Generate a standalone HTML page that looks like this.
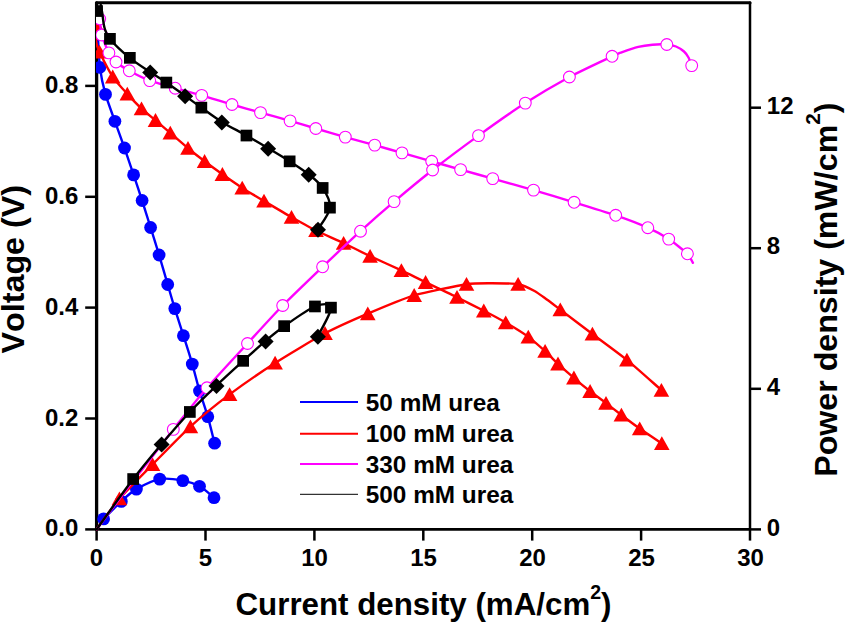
<!DOCTYPE html>
<html><head><meta charset="utf-8"><title>Polarization and power density curves</title>
<style>
html,body{margin:0;padding:0;background:#fff;}
body{width:846px;height:623px;overflow:hidden;font-family:"Liberation Sans",sans-serif;}
svg{display:block;}
</style></head>
<body>
<svg width="846" height="623" viewBox="0 0 846 623">
<defs><clipPath id="plot"><rect x="96.0" y="2.0" width="655.0" height="528.5"/></clipPath></defs>
<rect width="846" height="623" fill="#fff"/>
<g stroke="#000" fill="none" stroke-linecap="round">
<path d="M96.6 2.8 V529.3" stroke-width="3.3"/>
<path d="M96.6 2.75 H750" stroke-width="3.1"/>
<path d="M750 2.8 V529.3" stroke-width="2.5"/>
<path d="M96.6 529.35 H750" stroke-width="2.6"/>
</g>
<g stroke="#000" stroke-width="2.5" fill="none" stroke-linecap="butt">
<path d="M96.6 529.5 V540.6"/>
<path d="M205.5 529.5 V540.6"/>
<path d="M314.4 529.5 V540.6"/>
<path d="M423.3 529.5 V540.6"/>
<path d="M532.2 529.5 V540.6"/>
<path d="M641.1 529.5 V540.6"/>
<path d="M750.0 529.5 V540.6"/>
<path d="M96.5 529.4 H85.2"/>
<path d="M96.5 418.5 H85.2"/>
<path d="M96.5 307.6 H85.2"/>
<path d="M96.5 196.8 H85.2"/>
<path d="M96.5 85.9 H85.2"/>
<path d="M750.0 529.4 H761.0"/>
<path d="M750.0 388.8 H761.0"/>
<path d="M750.0 248.2 H761.0"/>
<path d="M750.0 107.7 H761.0"/>
</g>
<g clip-path="url(#plot)" fill="none" stroke-linejoin="round" stroke-linecap="round">
<path d="M97.6 30.0C97.8 33.7 99.1 60.9 99.9 67.3C100.7 73.7 104.0 89.0 105.5 94.4C107.0 99.8 113.0 115.9 114.9 121.3C116.8 126.7 122.6 142.6 124.5 148.0C126.4 153.4 131.8 169.7 133.6 174.9C135.4 180.2 140.4 195.2 142.1 200.5C143.8 205.8 148.9 222.1 150.6 227.5C152.3 232.9 157.4 249.3 159.1 255.0C160.8 260.7 166.1 279.1 167.7 284.5C169.3 289.9 173.2 303.5 174.8 308.6C176.4 313.7 181.7 330.1 183.4 335.7C185.2 341.2 190.7 358.6 192.3 364.1C193.9 369.6 197.9 385.7 199.5 391.0C201.1 396.3 206.3 411.5 207.8 416.7C209.3 421.9 213.9 440.6 214.6 443.2" stroke="#0000ff" stroke-width="2.4"/>
<path d="M103.6 518.9C106.5 516.0 115.8 506.4 121.3 501.4C126.8 496.4 130.0 492.8 136.4 489.1C142.8 485.4 152.0 480.5 159.7 479.1C167.4 477.7 176.2 479.4 182.8 480.6C189.4 481.8 194.3 483.5 199.5 486.3C204.7 489.1 211.6 495.8 214.0 497.7" stroke="#0000ff" stroke-width="2.4"/>
<circle cx="99.9" cy="67.3" r="6.4" fill="#0000ff"/><circle cx="105.5" cy="94.4" r="6.4" fill="#0000ff"/><circle cx="114.9" cy="121.3" r="6.4" fill="#0000ff"/><circle cx="124.5" cy="148.0" r="6.4" fill="#0000ff"/><circle cx="133.6" cy="174.9" r="6.4" fill="#0000ff"/><circle cx="142.1" cy="200.5" r="6.4" fill="#0000ff"/><circle cx="150.6" cy="227.5" r="6.4" fill="#0000ff"/><circle cx="159.1" cy="255.0" r="6.4" fill="#0000ff"/><circle cx="167.7" cy="284.5" r="6.4" fill="#0000ff"/><circle cx="174.8" cy="308.6" r="6.4" fill="#0000ff"/><circle cx="183.4" cy="335.7" r="6.4" fill="#0000ff"/><circle cx="192.3" cy="364.1" r="6.4" fill="#0000ff"/><circle cx="199.5" cy="391.0" r="6.4" fill="#0000ff"/><circle cx="207.8" cy="416.7" r="6.4" fill="#0000ff"/><circle cx="214.6" cy="443.2" r="6.4" fill="#0000ff"/>
<circle cx="103.6" cy="518.9" r="6.4" fill="#0000ff"/><circle cx="121.3" cy="501.4" r="6.4" fill="#0000ff"/><circle cx="136.4" cy="489.1" r="6.4" fill="#0000ff"/><circle cx="159.7" cy="479.1" r="6.4" fill="#0000ff"/><circle cx="182.8" cy="480.6" r="6.4" fill="#0000ff"/><circle cx="199.5" cy="486.3" r="6.4" fill="#0000ff"/><circle cx="214.0" cy="497.7" r="6.4" fill="#0000ff"/>
<path d="M96.6 25.3C96.6 27.0 95.9 39.3 96.2 42.0C96.5 44.7 97.8 48.5 99.5 52.0C101.2 55.5 109.9 72.6 112.7 76.8C115.5 81.0 124.4 90.7 127.3 93.9C130.2 97.1 138.7 106.0 141.5 108.6C144.3 111.2 152.6 117.9 155.5 120.3C158.4 122.7 167.1 130.2 170.3 133.0C173.6 135.8 184.6 145.4 188.0 148.2C191.4 151.0 201.2 158.7 204.6 161.3C208.0 163.9 218.6 171.6 222.4 174.3C226.2 177.0 238.0 185.2 242.2 187.9C246.4 190.6 259.1 198.1 264.0 201.0C268.9 203.9 286.3 214.2 291.5 217.1C296.7 220.0 310.8 227.9 316.0 230.5C321.2 233.1 338.2 240.5 343.6 243.1C349.0 245.7 364.3 253.4 370.1 256.1C375.9 258.8 395.8 267.8 401.4 270.4C406.9 273.0 420.0 279.6 425.6 282.3C431.2 285.0 451.2 294.3 457.0 297.2C462.8 300.1 478.9 308.3 483.8 310.8C488.7 313.3 501.2 320.0 505.7 322.6C510.1 325.2 524.4 334.0 528.3 336.9C532.2 339.8 542.1 348.5 545.1 351.2C548.1 353.9 555.1 361.1 558.0 363.8C560.9 366.5 570.7 375.1 573.9 377.8C577.1 380.6 586.9 388.8 590.1 391.3C593.3 393.8 602.9 400.7 606.0 403.1C609.1 405.5 618.0 412.4 621.4 415.0C624.8 417.6 635.7 425.8 639.7 428.6C643.7 431.5 659.6 442.0 661.8 443.5" stroke="#ff0000" stroke-width="2.4"/>
<path d="M96.5 529.5C98.8 526.4 113.8 505.1 119.4 498.6C125.0 492.1 145.4 471.7 152.5 464.5C159.6 457.3 182.7 433.6 190.4 426.6C198.1 419.6 221.1 400.8 229.6 394.4C238.1 388.0 265.6 369.1 275.1 363.0C284.6 356.9 315.7 338.2 325.0 333.3C334.3 328.4 358.9 317.4 367.8 313.6C376.7 309.8 404.3 298.2 414.2 295.3C424.1 292.4 458.7 285.4 466.5 284.2C474.3 283.0 486.8 283.2 492.0 283.2C497.2 283.2 513.8 283.4 518.1 284.2C522.4 285.0 532.4 289.8 535.0 291.2C537.6 292.6 542.0 296.0 544.5 297.8C547.0 299.6 555.5 306.0 560.3 309.6C565.1 313.2 585.7 329.0 592.4 334.0C599.1 339.0 620.0 354.3 626.9 359.9C633.8 365.5 657.9 387.1 661.4 390.1" stroke="#ff0000" stroke-width="2.4"/>
<path d="M96.6 18.1 L104.4 31.9 L88.8 31.9 Z" fill="#ff0000"/><path d="M99.5 44.8 L107.3 58.6 L91.7 58.6 Z" fill="#ff0000"/><path d="M112.7 69.6 L120.5 83.4 L104.9 83.4 Z" fill="#ff0000"/><path d="M127.3 86.7 L135.1 100.5 L119.5 100.5 Z" fill="#ff0000"/><path d="M141.5 101.4 L149.3 115.2 L133.7 115.2 Z" fill="#ff0000"/><path d="M155.5 113.1 L163.3 126.9 L147.7 126.9 Z" fill="#ff0000"/><path d="M170.3 125.8 L178.1 139.6 L162.5 139.6 Z" fill="#ff0000"/><path d="M188.0 141.0 L195.8 154.8 L180.2 154.8 Z" fill="#ff0000"/><path d="M204.6 154.1 L212.4 167.9 L196.8 167.9 Z" fill="#ff0000"/><path d="M222.4 167.1 L230.2 180.9 L214.6 180.9 Z" fill="#ff0000"/><path d="M242.2 180.7 L250.0 194.5 L234.4 194.5 Z" fill="#ff0000"/><path d="M264.0 193.8 L271.8 207.6 L256.2 207.6 Z" fill="#ff0000"/><path d="M291.5 209.9 L299.3 223.7 L283.7 223.7 Z" fill="#ff0000"/><path d="M316.0 223.3 L323.8 237.1 L308.2 237.1 Z" fill="#ff0000"/><path d="M343.6 235.9 L351.4 249.7 L335.8 249.7 Z" fill="#ff0000"/><path d="M370.1 248.9 L377.9 262.7 L362.3 262.7 Z" fill="#ff0000"/><path d="M401.4 263.2 L409.2 277.0 L393.6 277.0 Z" fill="#ff0000"/><path d="M425.6 275.1 L433.4 288.9 L417.8 288.9 Z" fill="#ff0000"/><path d="M457.0 290.0 L464.8 303.8 L449.2 303.8 Z" fill="#ff0000"/><path d="M483.8 303.6 L491.6 317.4 L476.0 317.4 Z" fill="#ff0000"/><path d="M505.7 315.4 L513.5 329.2 L497.9 329.2 Z" fill="#ff0000"/><path d="M528.3 329.7 L536.1 343.5 L520.5 343.5 Z" fill="#ff0000"/><path d="M545.1 344.0 L552.9 357.8 L537.3 357.8 Z" fill="#ff0000"/><path d="M558.0 356.6 L565.8 370.4 L550.2 370.4 Z" fill="#ff0000"/><path d="M573.9 370.6 L581.7 384.4 L566.1 384.4 Z" fill="#ff0000"/><path d="M590.1 384.1 L597.9 397.9 L582.3 397.9 Z" fill="#ff0000"/><path d="M606.0 395.9 L613.8 409.7 L598.2 409.7 Z" fill="#ff0000"/><path d="M621.4 407.8 L629.2 421.6 L613.6 421.6 Z" fill="#ff0000"/><path d="M639.7 421.4 L647.5 435.2 L631.9 435.2 Z" fill="#ff0000"/><path d="M661.8 436.3 L669.6 450.1 L654.0 450.1 Z" fill="#ff0000"/>
<path d="M119.4 491.4 L127.2 505.2 L111.6 505.2 Z" fill="#ff0000"/><path d="M152.5 457.3 L160.3 471.1 L144.7 471.1 Z" fill="#ff0000"/><path d="M190.4 419.4 L198.2 433.2 L182.6 433.2 Z" fill="#ff0000"/><path d="M229.6 387.2 L237.4 401.0 L221.8 401.0 Z" fill="#ff0000"/><path d="M275.1 355.8 L282.9 369.6 L267.3 369.6 Z" fill="#ff0000"/><path d="M325.0 326.1 L332.8 339.9 L317.2 339.9 Z" fill="#ff0000"/><path d="M367.8 306.4 L375.6 320.2 L360.0 320.2 Z" fill="#ff0000"/><path d="M414.2 288.1 L422.0 301.9 L406.4 301.9 Z" fill="#ff0000"/><path d="M466.5 277.0 L474.3 290.8 L458.7 290.8 Z" fill="#ff0000"/><path d="M518.1 277.0 L525.9 290.8 L510.3 290.8 Z" fill="#ff0000"/><path d="M560.3 302.4 L568.1 316.2 L552.5 316.2 Z" fill="#ff0000"/><path d="M592.4 326.8 L600.2 340.6 L584.6 340.6 Z" fill="#ff0000"/><path d="M626.9 352.7 L634.7 366.5 L619.1 366.5 Z" fill="#ff0000"/><path d="M661.4 382.9 L669.2 396.7 L653.6 396.7 Z" fill="#ff0000"/>
<path d="M99.7 19.0C99.9 20.6 100.8 31.6 101.7 35.0C102.6 38.4 107.5 50.2 108.9 52.9C110.3 55.6 114.0 60.2 116.0 62.0C118.0 63.8 125.9 68.9 129.3 70.8C132.7 72.7 145.1 78.9 149.7 80.6C154.3 82.3 170.0 86.7 175.2 88.2C180.4 89.7 196.0 93.8 201.7 95.4C207.4 97.0 226.1 102.8 232.0 104.5C237.9 106.2 254.7 111.0 260.5 112.6C266.3 114.2 284.6 119.3 290.1 120.9C295.6 122.5 310.3 126.9 315.8 128.5C321.3 130.1 339.4 135.4 345.3 137.1C351.2 138.8 369.0 143.5 374.7 145.1C380.4 146.7 396.3 151.3 402.0 152.9C407.7 154.5 425.8 159.6 431.7 161.3C437.6 163.0 454.5 167.9 460.6 169.6C466.7 171.3 485.4 176.5 492.7 178.6C500.0 180.7 525.4 187.7 533.5 190.1C541.6 192.5 565.9 199.8 574.1 202.3C582.3 204.8 608.3 212.8 615.7 215.3C623.1 217.8 642.5 225.3 647.8 227.7C653.1 230.1 664.7 236.5 668.7 239.1C672.7 241.7 685.0 251.4 687.4 253.8C689.8 256.2 692.4 261.9 692.9 262.8" stroke="#ff00ff" stroke-width="2.4"/>
<path d="M96.5 529.5C100.3 524.4 123.1 493.8 129.3 485.7C135.5 477.6 144.6 466.6 149.7 460.0C154.8 453.4 166.6 437.8 173.3 429.4C180.0 421.0 198.3 397.8 207.0 387.8C215.7 377.8 238.7 353.1 247.5 343.5C256.3 333.9 273.9 314.4 282.7 305.5C291.5 296.6 313.5 275.5 322.6 266.8C331.7 258.1 352.2 238.8 360.5 231.2C368.8 223.6 385.7 208.7 394.1 201.6C402.5 194.5 422.8 177.7 432.6 170.0C442.4 162.3 467.7 143.4 478.5 135.6C489.3 127.8 514.7 109.9 525.3 103.1C535.9 96.3 559.3 82.5 569.4 77.0C579.5 71.5 606.0 59.2 612.1 56.3C618.2 53.4 618.5 53.4 621.6 52.3C624.7 51.2 634.7 47.8 638.3 46.9C641.9 46.0 649.2 45.0 652.5 44.7C655.8 44.4 664.1 44.3 666.8 44.5C669.5 44.7 674.0 45.7 676.0 46.5C678.0 47.3 682.5 50.2 684.0 51.5C685.5 52.8 687.6 55.9 688.5 57.5C689.4 59.1 691.3 64.7 691.7 65.6" stroke="#ff00ff" stroke-width="2.4"/>
<circle cx="99.7" cy="19.0" r="5.9" fill="#fff" stroke="#ff00ff" stroke-width="1.1"/><circle cx="101.7" cy="35.0" r="5.9" fill="#fff" stroke="#ff00ff" stroke-width="1.1"/><circle cx="108.9" cy="52.9" r="5.9" fill="#fff" stroke="#ff00ff" stroke-width="1.1"/><circle cx="116.0" cy="62.0" r="5.9" fill="#fff" stroke="#ff00ff" stroke-width="1.1"/><circle cx="129.3" cy="70.8" r="5.9" fill="#fff" stroke="#ff00ff" stroke-width="1.1"/><circle cx="149.7" cy="80.6" r="5.9" fill="#fff" stroke="#ff00ff" stroke-width="1.1"/><circle cx="175.2" cy="88.2" r="5.9" fill="#fff" stroke="#ff00ff" stroke-width="1.1"/><circle cx="201.7" cy="95.4" r="5.9" fill="#fff" stroke="#ff00ff" stroke-width="1.1"/><circle cx="232.0" cy="104.5" r="5.9" fill="#fff" stroke="#ff00ff" stroke-width="1.1"/><circle cx="260.5" cy="112.6" r="5.9" fill="#fff" stroke="#ff00ff" stroke-width="1.1"/><circle cx="290.1" cy="120.9" r="5.9" fill="#fff" stroke="#ff00ff" stroke-width="1.1"/><circle cx="315.8" cy="128.5" r="5.9" fill="#fff" stroke="#ff00ff" stroke-width="1.1"/><circle cx="345.3" cy="137.1" r="5.9" fill="#fff" stroke="#ff00ff" stroke-width="1.1"/><circle cx="374.7" cy="145.1" r="5.9" fill="#fff" stroke="#ff00ff" stroke-width="1.1"/><circle cx="402.0" cy="152.9" r="5.9" fill="#fff" stroke="#ff00ff" stroke-width="1.1"/><circle cx="431.7" cy="161.3" r="5.9" fill="#fff" stroke="#ff00ff" stroke-width="1.1"/><circle cx="460.6" cy="169.6" r="5.9" fill="#fff" stroke="#ff00ff" stroke-width="1.1"/><circle cx="492.7" cy="178.6" r="5.9" fill="#fff" stroke="#ff00ff" stroke-width="1.1"/><circle cx="533.5" cy="190.1" r="5.9" fill="#fff" stroke="#ff00ff" stroke-width="1.1"/><circle cx="574.1" cy="202.3" r="5.9" fill="#fff" stroke="#ff00ff" stroke-width="1.1"/><circle cx="615.7" cy="215.3" r="5.9" fill="#fff" stroke="#ff00ff" stroke-width="1.1"/><circle cx="647.8" cy="227.7" r="5.9" fill="#fff" stroke="#ff00ff" stroke-width="1.1"/><circle cx="668.7" cy="239.1" r="5.9" fill="#fff" stroke="#ff00ff" stroke-width="1.1"/><circle cx="687.4" cy="253.8" r="5.9" fill="#fff" stroke="#ff00ff" stroke-width="1.1"/>
<circle cx="173.3" cy="429.4" r="5.9" fill="#fff" stroke="#ff00ff" stroke-width="1.1"/><circle cx="207.0" cy="387.8" r="5.9" fill="#fff" stroke="#ff00ff" stroke-width="1.1"/><circle cx="247.5" cy="343.5" r="5.9" fill="#fff" stroke="#ff00ff" stroke-width="1.1"/><circle cx="282.7" cy="305.5" r="5.9" fill="#fff" stroke="#ff00ff" stroke-width="1.1"/><circle cx="322.6" cy="266.8" r="5.9" fill="#fff" stroke="#ff00ff" stroke-width="1.1"/><circle cx="360.5" cy="231.2" r="5.9" fill="#fff" stroke="#ff00ff" stroke-width="1.1"/><circle cx="394.1" cy="201.6" r="5.9" fill="#fff" stroke="#ff00ff" stroke-width="1.1"/><circle cx="432.6" cy="170.0" r="5.9" fill="#fff" stroke="#ff00ff" stroke-width="1.1"/><circle cx="478.5" cy="135.6" r="5.9" fill="#fff" stroke="#ff00ff" stroke-width="1.1"/><circle cx="525.3" cy="103.1" r="5.9" fill="#fff" stroke="#ff00ff" stroke-width="1.1"/><circle cx="569.4" cy="77.0" r="5.9" fill="#fff" stroke="#ff00ff" stroke-width="1.1"/><circle cx="612.1" cy="56.3" r="5.9" fill="#fff" stroke="#ff00ff" stroke-width="1.1"/><circle cx="666.8" cy="44.5" r="5.9" fill="#fff" stroke="#ff00ff" stroke-width="1.1"/><circle cx="691.7" cy="65.6" r="5.9" fill="#fff" stroke="#ff00ff" stroke-width="1.1"/>
<path d="M100.8 5.0C101.1 6.5 101.8 10.2 102.4 14.0C103.0 17.8 103.3 23.9 104.6 28.0C105.8 32.1 105.7 33.9 109.9 38.9C114.1 43.9 123.1 52.4 129.8 57.9C136.5 63.4 144.1 68.0 150.2 72.1C156.3 76.2 160.5 78.5 166.3 82.5C172.1 86.5 179.3 91.6 185.1 95.8C190.9 100.0 195.2 103.2 201.3 107.6C207.4 111.9 214.3 117.2 221.8 121.9C229.3 126.6 238.7 131.1 246.4 135.5C254.1 139.9 260.9 143.9 268.1 148.2C275.3 152.5 282.9 157.0 289.7 161.3C296.5 165.7 303.2 169.9 308.7 174.3C314.2 178.7 319.1 182.4 322.7 187.9C326.2 193.4 330.8 200.7 330.0 207.6C329.2 214.5 320.0 225.6 318.0 229.2" stroke="#000000" stroke-width="2.4"/>
<path d="M96.5 529.5C102.6 521.1 122.3 493.3 133.2 479.1C144.0 464.9 152.2 455.3 161.6 444.1C171.0 432.9 180.7 421.8 189.8 412.0C199.0 402.2 207.6 394.0 216.5 385.5C225.4 377.0 235.0 368.3 243.2 360.9C251.4 353.5 258.8 346.7 265.6 340.9C272.4 335.1 276.0 331.9 284.2 326.2C292.4 320.5 307.2 309.6 315.0 306.5C322.8 303.4 330.5 302.8 331.0 307.7C331.5 312.6 320.1 331.4 317.9 336.2" stroke="#000000" stroke-width="2.4"/>
<rect x="91.2" y="5.2" width="11.7" height="11.7" fill="#000"/><rect x="104.1" y="33.0" width="11.7" height="11.7" fill="#000"/><rect x="124.0" y="52.0" width="11.7" height="11.7" fill="#000"/><path d="M150.2 64.6 L158.2 72.6 L150.2 80.6 L142.2 72.6 Z" fill="#000"/><rect x="160.5" y="76.7" width="11.7" height="11.7" fill="#000"/><path d="M185.1 88.3 L193.1 96.3 L185.1 104.3 L177.1 96.3 Z" fill="#000"/><rect x="195.5" y="101.8" width="11.7" height="11.7" fill="#000"/><path d="M221.8 114.4 L229.8 122.4 L221.8 130.4 L213.8 122.4 Z" fill="#000"/><rect x="240.6" y="129.7" width="11.7" height="11.7" fill="#000"/><path d="M268.1 140.7 L276.1 148.7 L268.1 156.7 L260.1 148.7 Z" fill="#000"/><rect x="283.8" y="155.5" width="11.7" height="11.7" fill="#000"/><path d="M308.7 166.8 L316.7 174.8 L308.7 182.8 L300.7 174.8 Z" fill="#000"/><rect x="316.8" y="182.1" width="11.7" height="11.7" fill="#000"/><rect x="324.1" y="201.8" width="11.7" height="11.7" fill="#000"/><path d="M318.0 221.7 L326.0 229.7 L318.0 237.7 L310.0 229.7 Z" fill="#000"/>
<rect x="127.3" y="473.2" width="11.7" height="11.7" fill="#000"/><path d="M161.6 436.6 L169.6 444.6 L161.6 452.6 L153.6 444.6 Z" fill="#000"/><rect x="184.0" y="406.1" width="11.7" height="11.7" fill="#000"/><path d="M216.5 378.0 L224.5 386.0 L216.5 394.0 L208.5 386.0 Z" fill="#000"/><rect x="237.3" y="355.0" width="11.7" height="11.7" fill="#000"/><path d="M265.6 333.4 L273.6 341.4 L265.6 349.4 L257.6 341.4 Z" fill="#000"/><rect x="278.3" y="320.3" width="11.7" height="11.7" fill="#000"/><rect x="309.1" y="300.6" width="11.7" height="11.7" fill="#000"/><rect x="325.1" y="301.8" width="11.7" height="11.7" fill="#000"/><path d="M317.9 328.7 L325.9 336.7 L317.9 344.7 L309.9 336.7 Z" fill="#000"/>
</g>
<g font-family="'Liberation Sans', sans-serif" font-weight="bold" fill="#000" style="font-kerning:none">
<g font-size="24" text-anchor="middle">
<text transform="translate(96.5,565.7) scale(1.000,1)">0</text>
<text transform="translate(205.5,565.7) scale(1.000,1)">5</text>
<text transform="translate(314.5,565.7) scale(1.000,1)">10</text>
<text transform="translate(423.5,565.7) scale(1.000,1)">15</text>
<text transform="translate(532.5,565.7) scale(1.000,1)">20</text>
<text transform="translate(641.5,565.7) scale(1.000,1)">25</text>
<text transform="translate(750.5,565.7) scale(1.000,1)">30</text>
</g>
<g font-size="24" text-anchor="end">
<text transform="translate(78.3,536.4) scale(1.000,1)">0.0</text>
<text transform="translate(78.3,425.5) scale(1.000,1)">0.2</text>
<text transform="translate(78.3,314.6) scale(1.000,1)">0.4</text>
<text transform="translate(78.3,203.8) scale(1.000,1)">0.6</text>
<text transform="translate(78.3,92.9) scale(1.000,1)">0.8</text>
</g>
<g font-size="24" text-anchor="start">
<text transform="translate(766.8,535.5) scale(1.000,1)">0</text>
<text transform="translate(766.8,394.9) scale(1.000,1)">4</text>
<text transform="translate(766.8,254.3) scale(1.000,1)">8</text>
<text transform="translate(766.8,113.8) scale(1.000,1)">12</text>
</g>
<text x="235.5" y="615.4" font-size="32" textLength="376" lengthAdjust="spacingAndGlyphs">Current density (mA/cm<tspan font-size="20" dy="-16.6">2</tspan><tspan dy="16.6">)</tspan></text>
<text transform="translate(24.1,353.4) rotate(-90)" font-size="31.5" textLength="168.3" lengthAdjust="spacingAndGlyphs">Voltage (V)</text>
<text transform="translate(837.4,476.8) rotate(-90)" font-size="31" textLength="374.3" lengthAdjust="spacingAndGlyphs">Power density (mW/cm<tspan font-size="20" dy="-17.5">2</tspan><tspan dy="17.5">)</tspan></text>
<path d="M300 402.0 H358" stroke="#0000ff" stroke-width="2" fill="none"/>
<text x="365.8" y="410.6" font-size="23.3" textLength="134.0" lengthAdjust="spacingAndGlyphs">50 mM urea</text>
<path d="M300 433.7 H358" stroke="#ff0000" stroke-width="2" fill="none"/>
<text x="365.8" y="441.8" font-size="23.3" textLength="147.5" lengthAdjust="spacingAndGlyphs">100 mM urea</text>
<path d="M300 464.0 H358" stroke="#ff00ff" stroke-width="2" fill="none"/>
<text x="365.8" y="472.6" font-size="23.3" textLength="147.5" lengthAdjust="spacingAndGlyphs">330 mM urea</text>
<path d="M300 494.3 H358" stroke="#000000" stroke-width="1" fill="none"/>
<text x="365.8" y="502.9" font-size="23.3" textLength="147.5" lengthAdjust="spacingAndGlyphs">500 mM urea</text>
</g>
</svg>
</body></html>
